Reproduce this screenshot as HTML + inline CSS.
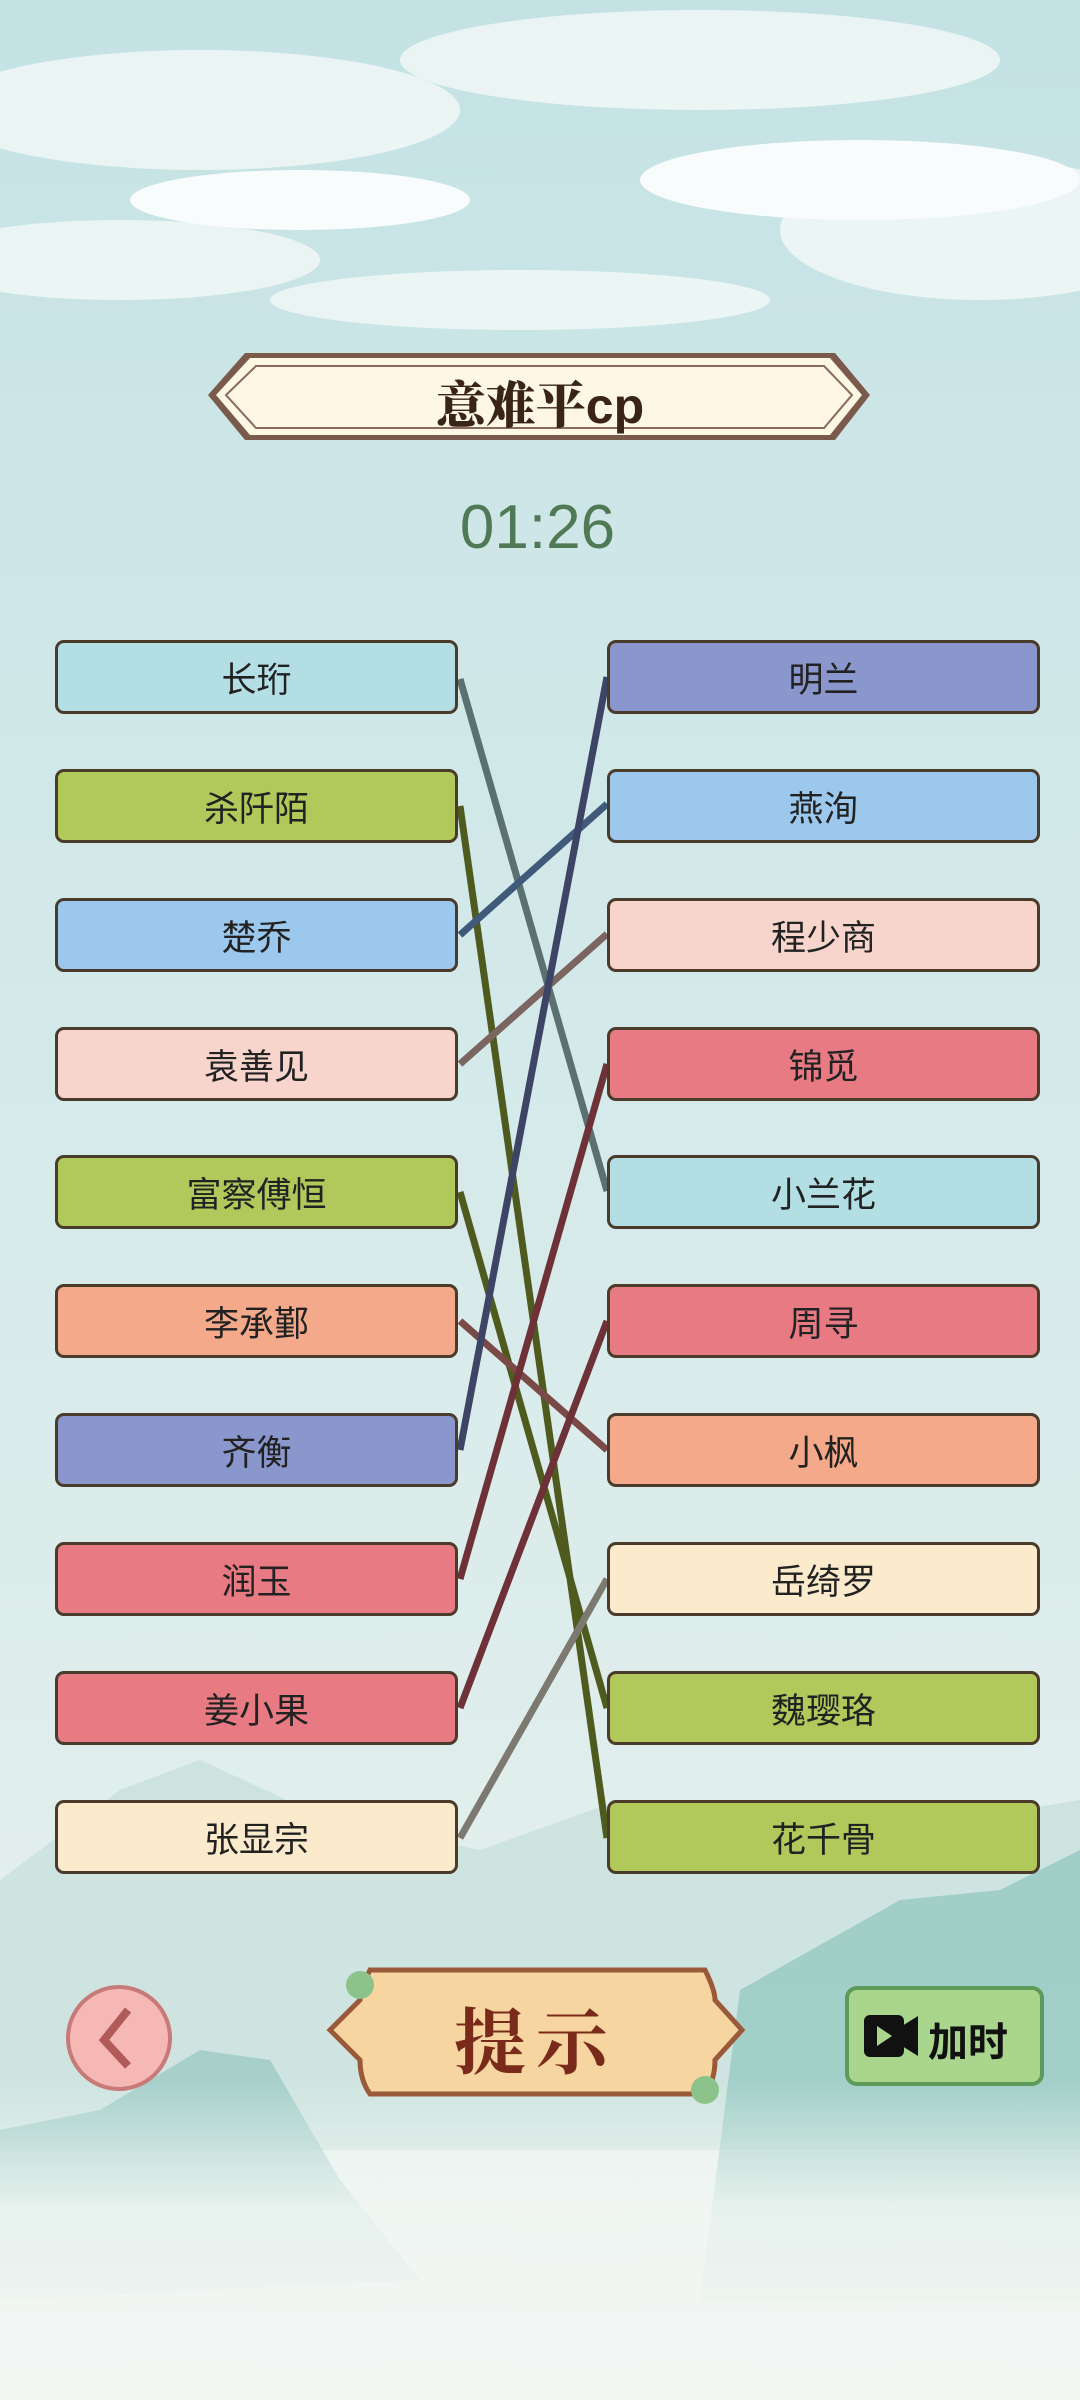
<!DOCTYPE html>
<html><head><meta charset="utf-8"><style>
*{margin:0;padding:0;box-sizing:border-box}
body{width:1080px;height:2400px;overflow:hidden;position:relative;font-family:"Liberation Sans","Noto Sans CJK SC",sans-serif;
background:linear-gradient(180deg,#c4e2e4 0%,#cde6e7 20%,#d6eaea 50%,#e0eeec 75%,#eef4f0 100%)}
.b{position:absolute;height:74px;border:3px solid #4a3b2a;border-radius:9px;display:flex;align-items:center;justify-content:center;font-size:35px;color:#222;}
.l{left:55px;width:403px}
.r{left:607px;width:433px}
svg{position:absolute;left:0;top:0}
</style></head><body>
<svg width="1080" height="2400">
<defs>
<linearGradient id="fog" x1="0" y1="0" x2="0" y2="1">
<stop offset="0" stop-color="#f1f6f3" stop-opacity="0"/>
<stop offset="0.4" stop-color="#f1f6f3" stop-opacity="0.85"/>
<stop offset="1" stop-color="#f3f7f4" stop-opacity="1"/>
</linearGradient>
</defs>
<g fill="#eef6f5" opacity="0.9">
<ellipse cx="200" cy="110" rx="260" ry="60"/>
<ellipse cx="700" cy="60" rx="300" ry="50"/>
<ellipse cx="980" cy="230" rx="200" ry="70"/>
<ellipse cx="120" cy="260" rx="200" ry="40"/>
<ellipse cx="520" cy="300" rx="250" ry="30"/>
</g>
<g fill="#f9fcfc">
<ellipse cx="860" cy="180" rx="220" ry="40"/>
<ellipse cx="300" cy="200" rx="170" ry="30"/>
</g>
<path d="M0 1880 L120 1790 L200 1760 L330 1820 L480 1850 L620 1800 L760 1870 L900 1830 L1080 1800 L1080 2150 L0 2150Z" fill="#bfdcd7" opacity="0.6"/>
<path d="M740 1990 L900 1900 L1000 1890 L1080 1850 L1080 2300 L700 2300Z" fill="#8ec6bd" opacity="0.7"/>
<path d="M0 2130 L100 2110 L200 2050 L270 2060 L340 2180 L420 2280 L0 2300Z" fill="#9ccbc6" opacity="0.8"/>
<rect x="0" y="2080" width="1080" height="320" fill="url(#fog)"/>
<path d="M245 353 L835 353 L870 395 L835 440 L245 440 L208 395Z" fill="#7a5a4a"/>
<path d="M250 358 L830 358 L862 395 L830 435 L250 435 L216 395Z" fill="#fdf7e4"/>
<path d="M256 366 L824 366 L852 395 L824 428 L256 428 L226 395Z" fill="none" stroke="#8a6a5a" stroke-width="2"/>
<g stroke-width="7" stroke-linecap="butt">
<line x1="460" y1="679" x2="607" y2="1191" stroke="#5b7070"/>
<line x1="460" y1="806" x2="607" y2="1838" stroke="#4f5a1e"/>
<line x1="460" y1="935" x2="607" y2="804" stroke="#3f5a7a"/>
<line x1="460" y1="1064" x2="607" y2="934" stroke="#7a6560"/>
<line x1="460" y1="1192" x2="607" y2="1708" stroke="#4f5a1e"/>
<line x1="460" y1="1321" x2="607" y2="1450" stroke="#7a4a48"/>
<line x1="460" y1="1450" x2="607" y2="677" stroke="#3d4466"/>
<line x1="460" y1="1579" x2="607" y2="1064" stroke="#6e3138"/>
<line x1="460" y1="1708" x2="607" y2="1321" stroke="#6e3138"/>
<line x1="460" y1="1838" x2="607" y2="1579" stroke="#7c7a70"/>
</g>
<circle cx="119" cy="2038" r="51" fill="#f5b8b5" stroke="#c77a78" stroke-width="4"/>
<path d="M128 2010 L104 2040 L128 2066" fill="none" stroke="#b05a5a" stroke-width="8"/>
<path d="M370 1970 L705 1970 Q715 1990 715 2000 L742 2030 L715 2060 Q715 2080 705 2094 L370 2094 Q360 2080 360 2060 L330 2030 L360 2000 Q360 1990 370 1970Z" fill="#f6d5a0" stroke="#9a5a3a" stroke-width="5"/>
<circle cx="360" cy="1985" r="14" fill="#8cc38a"/><circle cx="705" cy="2090" r="14" fill="#8cc38a"/>
<rect x="847" y="1988" width="195" height="96" rx="10" fill="#a9d58c" stroke="#5e9a5a" stroke-width="4"/>
<rect x="864" y="2015" width="40" height="42" rx="6" fill="#111"/>
<path d="M902 2026 L918 2016 L918 2056 L902 2046Z" fill="#111"/>
<path d="M877 2026 L892 2036 L877 2046Z" fill="#a9d58c"/>
</svg>
<div style="position:absolute;left:0;width:1080px;top:366px;text-align:center;font-size:50px;font-weight:900;color:#3a2418;font-family:'Liberation Sans','Noto Serif CJK SC',serif">意难平cp</div>
<div style="position:absolute;left:0;width:1075px;top:492px;text-align:center;font-size:62px;color:#4f7a55">01:26</div>
<div class="b l" style="top:640px;background:#b3dfe4">长珩</div>
<div class="b l" style="top:769px;background:#b0c95a">杀阡陌</div>
<div class="b l" style="top:898px;background:#9dc8ee">楚乔</div>
<div class="b l" style="top:1027px;background:#f7d5cc">袁善见</div>
<div class="b l" style="top:1155px;background:#b0c95a">富察傅恒</div>
<div class="b l" style="top:1284px;background:#f3a98a">李承鄞</div>
<div class="b l" style="top:1413px;background:#8a97cc">齐衡</div>
<div class="b l" style="top:1542px;background:#e87a84">润玉</div>
<div class="b l" style="top:1671px;background:#e87a84">姜小果</div>
<div class="b l" style="top:1800px;background:#fbeacc">张显宗</div>
<div class="b r" style="top:640px;background:#8a97cc">明兰</div>
<div class="b r" style="top:769px;background:#9dc8ee">燕洵</div>
<div class="b r" style="top:898px;background:#f7d5cc">程少商</div>
<div class="b r" style="top:1027px;background:#e87a84">锦觅</div>
<div class="b r" style="top:1155px;background:#b3dfe4">小兰花</div>
<div class="b r" style="top:1284px;background:#e87a84">周寻</div>
<div class="b r" style="top:1413px;background:#f3a98a">小枫</div>
<div class="b r" style="top:1542px;background:#fbeacc">岳绮罗</div>
<div class="b r" style="top:1671px;background:#b0c95a">魏璎珞</div>
<div class="b r" style="top:1800px;background:#b0c95a">花千骨</div>
<div style="position:absolute;left:330px;width:412px;top:1985px;text-align:center;font-size:72px;font-weight:bold;color:#7a2a1a;font-family:'Noto Serif CJK SC',serif;letter-spacing:10px">提示</div>
<div style="position:absolute;left:928px;top:2010px;font-size:40px;font-weight:bold;color:#111">加时</div>
</body></html>
